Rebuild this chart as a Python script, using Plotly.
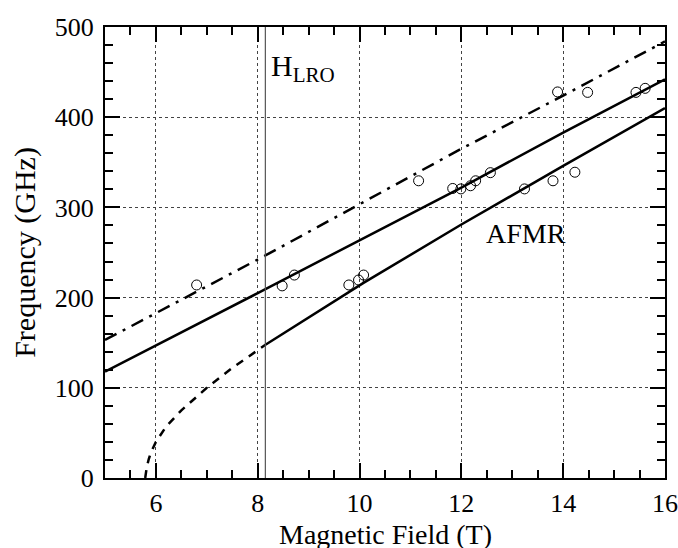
import plotly.graph_objects as go

# Measured resonance frequencies (field in T, frequency in GHz)
field_pts = [6.80, 8.48, 8.72, 9.79, 9.98, 10.08, 11.16, 11.83, 11.99, 12.18,
             12.28, 12.57, 13.24, 13.80, 14.23, 13.89, 14.48, 15.43, 15.61]
freq_pts = [214, 213, 225, 214, 219.5, 225, 329.5, 321, 320.5, 324,
            329.5, 338.5, 320.5, 329.5, 339, 428, 427.5, 427.5, 432]

# Upper solid branch
upper_field = [5.0, 8.0, 12.0, 14.0, 16.0]
upper_freq = [118, 205, 322, 383, 442]

# Lower solid branch (AFMR) above the ordering field
lower_field = [8.16, 10.07, 12.0, 14.0, 16.0]
lower_freq = [148, 216, 281, 346, 410]

# Dashed continuation of the lower branch below the ordering field
dash_field = [5.79, 5.82, 5.86, 5.9, 6.0, 6.2, 6.5, 7.0, 7.5, 8.0, 8.16]
dash_freq = [0, 12, 21, 28, 40, 57, 75, 100, 122, 142, 148]

# Dash-dot branch
dd_field = [5.0, 8.16, 12.0, 14.0, 16.0]
dd_freq = [153, 247, 365, 424, 484]

h_lro = 8.15

x_ticks = [6, 8, 10, 12, 14, 16]
y_ticks = [0, 100, 200, 300, 400, 500]

FONT = "Liberation Serif"

fig = go.Figure()

fig.add_trace(go.Scatter(x=upper_field, y=upper_freq, mode="lines",
                         line=dict(color="black", width=2.5)))
fig.add_trace(go.Scatter(x=lower_field, y=lower_freq, mode="lines",
                         line=dict(color="black", width=2.5)))
fig.add_trace(go.Scatter(x=dash_field, y=dash_freq, mode="lines",
                         line=dict(color="black", width=2.5, dash="8px,7px")))
fig.add_trace(go.Scatter(x=dd_field, y=dd_freq, mode="lines",
                         line=dict(color="black", width=2.5,
                                   dash="13px,7px,3px,7px")))
fig.add_trace(go.Scatter(x=field_pts, y=freq_pts, mode="markers",
                         marker=dict(symbol="circle-open", size=10,
                                     color="black", line=dict(width=1))))

# Long-range-order field marker
fig.add_shape(type="line", x0=h_lro, x1=h_lro, y0=0, y1=500,
              xref="x", yref="y", line=dict(color="#555", width=1.2))

fig.add_annotation(x=8.22, y=455, xref="x", yref="y", xanchor="left",
                   text="H<sub>LRO</sub>", showarrow=False,
                   font=dict(family=FONT, size=30, color="black"))
fig.add_annotation(x=13.26, y=271, xref="x", yref="y",
                   text="AFMR", showarrow=False,
                   font=dict(family=FONT, size=28, color="black"))

# x-axis title, set just below the tick labels
fig.add_annotation(x=0.5, y=0, xref="paper", yref="paper",
                   xanchor="center", yanchor="top", yshift=-39,
                   text="Magnetic Field (T)", showarrow=False,
                   font=dict(family=FONT, size=28, color="black"))

axis_common = dict(
    showline=True, linecolor="black", linewidth=2, mirror="allticks",
    ticks="inside", ticklen=15, tickwidth=2, tickcolor="black",
    showgrid=True, gridcolor="#444", gridwidth=1, griddash="dot",
    zeroline=False, automargin=False,
    tickfont=dict(family=FONT, size=26, color="black"),
)

fig.update_xaxes(
    range=[5, 16], tickvals=x_ticks, ticktext=[str(v) for v in x_ticks],
    minor=dict(dtick=0.5, tick0=5, ticks="inside", ticklen=8, tickwidth=1.5,
               tickcolor="black", showgrid=False),
    ticklabelstandoff=1,
    **axis_common,
)
fig.update_yaxes(
    range=[0, 500], tickvals=y_ticks, ticktext=[str(v) for v in y_ticks],
    minor=dict(dtick=20, tick0=0, ticks="inside", ticklen=8, tickwidth=1.5,
               tickcolor="black", showgrid=False),
    title=dict(text="Frequency (GHz)", standoff=10,
               font=dict(family=FONT, size=30, color="black")),
    ticklabelstandoff=4,
    **axis_common,
)

fig.update_layout(
    width=678, height=548,
    margin=dict(l=105, r=13, t=27, b=70),
    paper_bgcolor="white", plot_bgcolor="white",
    showlegend=False,
)

fig.write_html("out.html")
